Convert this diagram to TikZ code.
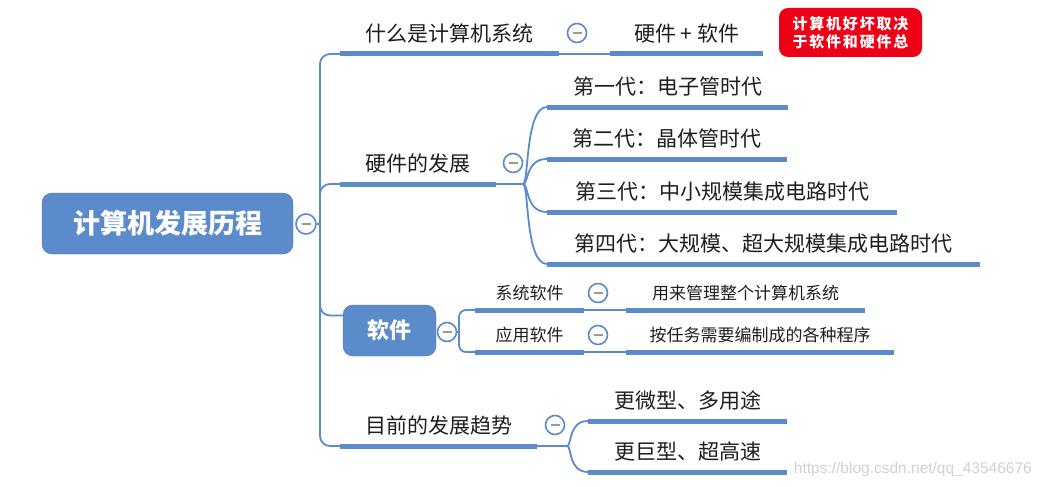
\documentclass[tikz,border=0pt]{standalone}
\usepackage{fontspec}
\setmainfont{Noto Sans CJK SC}
\newfontfamily\wmfont{Liberation Sans}
\usetikzlibrary{positioning}
\definecolor{mblue}{RGB}{91,139,203}
\definecolor{mred}{RGB}{238,0,22}
\definecolor{mtext}{RGB}{30,30,30}
\tikzset{
  link/.style={draw=mblue, line width=1.8pt},
  uline/.style={draw=mblue, line width=5pt},
  topic/.style={anchor=south west, inner xsep=0pt, inner ysep=10.5pt, text=mtext,
    font=\fontsize{21}{21}\selectfont},
  leaf/.style={topic, inner ysep=8.5pt, font=\fontsize{17}{17}\selectfont},
  fold/.style={circle, draw=mblue, fill=white, line width=1.6pt, minimum size=19pt, inner sep=0pt,
    path picture={\draw[mtext!45, line width=1.2pt]
      ([xshift=-4.5pt]path picture bounding box.center) -- ([xshift=4.5pt]path picture bounding box.center);}},
  bluebox/.style={rounded corners=10pt, fill=mblue, draw=mblue!85!black, line width=0.4pt,
    text=white, inner sep=0pt}
}
\begin{document}
\begin{tikzpicture}[x=1pt, y=-1pt]
\useasboundingbox (0,0) rectangle (1041,487);
\node[bluebox, minimum width=251pt, minimum height=61pt, font=\fontsize{27}{27}\selectfont\bfseries]
  (root) at (167.5,223.5) {计算机发展历程};
\node[fold, minimum size=20pt] (rootfold) at (306,224) {};
\coordinate (tr) at (320,224);
\draw[link] (rootfold) -- (tr);

\node[topic, minimum width=219pt] (what) at (340,54) {什么是计算机系统};
\node[fold] (whatfold) at (577,33) {};
\node[topic, minimum width=153pt] (whatd) at (610,54) {硬件 + 软件};
\draw[link, rounded corners=10pt] (tr) |- (what.south west);
\draw[link] (what.south east) -- (whatd.south west);
\foreach \n in {what, whatd}
  \draw[uline] (\n.south west) -- (\n.south east);
\node[rounded corners=9pt, fill=mred, text=white, align=center, inner sep=0pt,
  minimum width=143pt, minimum height=49pt, font=\fontsize{15}{18}\selectfont\bfseries]
  (note) at (850.5,32.5) {\addfontfeature{LetterSpace=12}计算机好坏取决\\\addfontfeature{LetterSpace=12}于软件和硬件总};

\node[topic, minimum width=156pt] (hw) at (340,184) {硬件的发展};
\node[fold] (hwfold) at (513,163) {};
\coordinate (hwc) at (523,184);
\draw[link, rounded corners=10pt] (tr) |- (hw.south west);
\draw[link] (hw.south east) -- (hwc);
\draw[uline] (hw.south west) -- (hw.south east);
\foreach \n/\y/\w/\t in {g1/107/241/第一代：电子管时代, g2/159/240/第二代：晶体管时代,
    g3/212/350/第三代：中小规模集成电路时代, g4/264/433/第四代：大规模、超大规模集成电路时代} {
  \node[topic, minimum width=\w pt] (\n) at (547,\y) {\t};
  \draw[link] (hwc) .. controls +(6,0) and +(-22,0) .. (\n.south west);
  \draw[uline] (\n.south west) -- (\n.south east);
}

\node[bluebox, minimum width=93pt, minimum height=51pt, font=\fontsize{22}{22}\selectfont\bfseries]
  (sw) at (389.5,330.5) {软件};
\draw[link, rounded corners=10pt] (tr) |- ([yshift=15pt]sw.west);
\node[fold] (swfold) at (447,332) {};
\coordinate (swc) at (459,332);
\draw[link] (swfold) -- (swc);
\node[leaf, minimum width=109pt] (sys) at (475,310) {系统软件};
\node[leaf, minimum width=109pt] (app) at (475,352) {应用软件};
\node[fold] (sysfold) at (598,293) {};
\node[fold] (appfold) at (598,335) {};
\node[leaf, minimum width=239pt] (sysd) at (626,310) {用来管理整个计算机系统};
\node[leaf, minimum width=268pt] (appd) at (626,352) {按任务需要编制成的各种程序};
\draw[link, rounded corners=7pt] (swc) |- (sys.south west);
\draw[link, rounded corners=7pt] (swc) |- (app.south west);
\draw[link] (sys.south east) -- (sysd.south west);
\draw[link] (app.south east) -- (appd.south west);
\foreach \n in {sys, app, sysd, appd}
  \draw[uline] (\n.south west) -- (\n.south east);

\node[topic, minimum width=197pt] (trend) at (340,446) {目前的发展趋势};
\node[fold] (trendfold) at (555,425) {};
\coordinate (trc) at (567,446);
\draw[link, rounded corners=10pt] (tr) |- (trend.south west);
\draw[link] (trend.south east) -- (trc);
\draw[uline] (trend.south west) -- (trend.south east);
\foreach \n/\y/\t in {t1/421/更微型、多用途, t2/472/更巨型、超高速} {
  \node[topic, minimum width=199pt] (\n) at (588,\y) {\t};
  \draw[link] (trc) .. controls +(5,0) and +(-20,0) .. (\n.south west);
  \draw[uline] (\n.south west) -- (\n.south east);
}

\node[text=black!18, font=\wmfont\fontsize{15.5}{15.5}\selectfont, anchor=east, inner sep=0pt]
  (mark) at (1032,469) {https://blog.csdn.net/qq\_43546676};
\end{tikzpicture}
\end{document}
